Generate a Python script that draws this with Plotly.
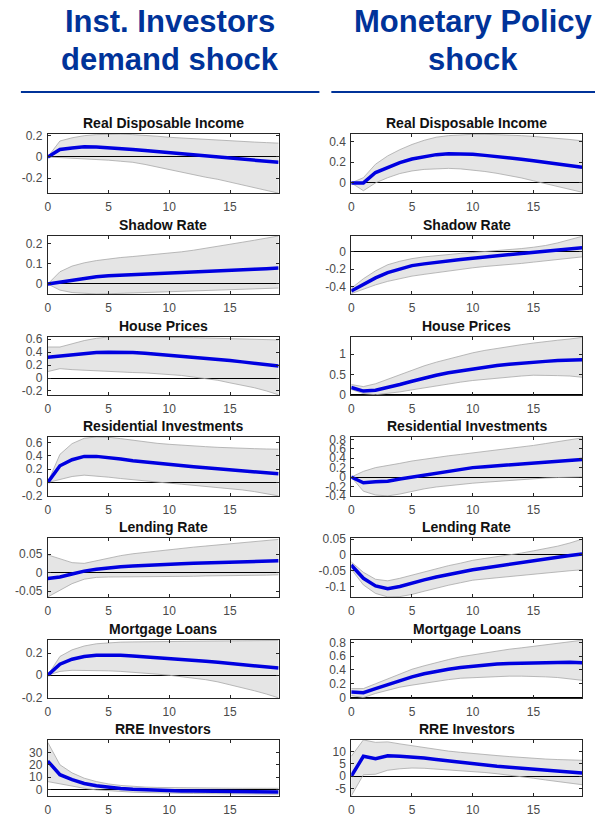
import plotly.graph_objects as go

W, H = 595, 817

steps = list(range(20))
x_ticks = [0, 5, 10, 15]

panel_titles = ["Real Disposable Income", "Shadow Rate", "House Prices",
                "Residential Investments", "Lending Rate", "Mortgage Loans",
                "RRE Investors"]
column_titles = [["Inst. Investors", "demand shock"], ["Monetary Policy", "shock"]]

# ---------------- Inst. Investors demand shock (left column) ----------------
inst_rdi_med = [0, 0.07, 0.085, 0.095, 0.093, 0.088, 0.08, 0.07, 0.06, 0.05, 0.04, 0.03, 0.02, 0.01, 0.0, -0.01, -0.02, -0.03, -0.04, -0.05]
inst_rdi_hi = [0, 0.15, 0.18, 0.20, 0.21, 0.215, 0.215, 0.21, 0.205, 0.195, 0.185, 0.178, 0.17, 0.163, 0.157, 0.15, 0.145, 0.14, 0.135, 0.13]
inst_rdi_lo = [0, -0.005, -0.01, -0.015, -0.02, -0.03, -0.04, -0.05, -0.07, -0.095, -0.12, -0.145, -0.17, -0.19, -0.21, -0.235, -0.26, -0.285, -0.31, -0.34]

inst_sr_med = [0, 0.01, 0.02, 0.03, 0.036, 0.041, 0.044, 0.047, 0.05, 0.053, 0.055, 0.058, 0.061, 0.063, 0.066, 0.068, 0.07, 0.073, 0.075, 0.078]
inst_sr_hi = [0, 0.06, 0.088, 0.104, 0.115, 0.124, 0.13, 0.135, 0.14, 0.145, 0.15, 0.158, 0.166, 0.175, 0.185, 0.195, 0.205, 0.215, 0.225, 0.236]
inst_sr_lo = [0, -0.03, -0.042, -0.047, -0.049, -0.048, -0.046, -0.044, -0.042, -0.04, -0.038, -0.036, -0.034, -0.032, -0.03, -0.028, -0.026, -0.024, -0.022, -0.02]

inst_hp_med = [0.32, 0.34, 0.36, 0.38, 0.395, 0.40, 0.40, 0.395, 0.385, 0.37, 0.355, 0.34, 0.325, 0.305, 0.29, 0.27, 0.25, 0.23, 0.21, 0.185]
inst_hp_hi = [0.48, 0.48, 0.53, 0.58, 0.615, 0.636, 0.636, 0.636, 0.636, 0.636, 0.636, 0.63, 0.625, 0.62, 0.615, 0.61, 0.605, 0.6, 0.595, 0.59]
inst_hp_lo = [0.10, 0.145, 0.13, 0.12, 0.105, 0.095, 0.09, 0.085, 0.08, 0.07, 0.057, 0.04, 0.015, -0.005, -0.035, -0.075, -0.11, -0.15, -0.2, -0.26]

inst_ri_med = [0, 0.25, 0.34, 0.39, 0.39, 0.375, 0.35, 0.325, 0.305, 0.285, 0.27, 0.25, 0.235, 0.22, 0.205, 0.19, 0.175, 0.16, 0.145, 0.13]
inst_ri_hi = [0, 0.42, 0.58, 0.66, 0.68, 0.675, 0.655, 0.63, 0.605, 0.585, 0.57, 0.555, 0.545, 0.535, 0.525, 0.515, 0.51, 0.505, 0.5, 0.497]
inst_ri_lo = [0, 0.05, 0.09, 0.11, 0.1, 0.08, 0.06, 0.04, 0.02, 0.005, -0.01, -0.025, -0.04, -0.055, -0.07, -0.09, -0.11, -0.135, -0.165, -0.2]

inst_lr_med = [-0.016, -0.012, -0.004, 0.004, 0.009, 0.013, 0.016, 0.018, 0.02, 0.021, 0.023, 0.024, 0.025, 0.026, 0.027, 0.028, 0.029, 0.03, 0.031, 0.032]
inst_lr_hi = [0.048, 0.038, 0.027, 0.025, 0.032, 0.04, 0.046, 0.051, 0.055, 0.059, 0.063, 0.066, 0.069, 0.072, 0.075, 0.078, 0.081, 0.084, 0.087, 0.09]
inst_lr_lo = [-0.066, -0.048, -0.03, -0.018, -0.013, -0.012, -0.012, -0.012, -0.011, -0.011, -0.011, -0.01, -0.01, -0.009, -0.009, -0.008, -0.008, -0.007, -0.007, -0.006]

inst_ml_med = [0, 0.1, 0.145, 0.17, 0.18, 0.182, 0.18, 0.175, 0.168, 0.16, 0.152, 0.144, 0.136, 0.127, 0.118, 0.108, 0.098, 0.087, 0.076, 0.065]
inst_ml_hi = [0, 0.17, 0.23, 0.265, 0.285, 0.295, 0.3, 0.302, 0.304, 0.305, 0.306, 0.307, 0.308, 0.309, 0.31, 0.311, 0.312, 0.313, 0.314, 0.315]
inst_ml_lo = [0, 0.035, 0.045, 0.045, 0.043, 0.04, 0.035, 0.028, 0.02, 0.01, 0.0, -0.012, -0.025, -0.04, -0.06, -0.085, -0.11, -0.14, -0.17, -0.205]

inst_rre_med = [23, 12, 8, 5, 3.2, 1.9, 1.0, 0.4, -0.1, -0.5, -0.8, -1.0, -1.1, -1.2, -1.3, -1.4, -1.5, -1.6, -1.7, -1.8]
inst_rre_hi = [38, 20, 13.5, 9.2, 6.5, 4.6, 3.4, 2.6, 2.1, 1.8, 1.6, 1.5, 1.4, 1.3, 1.25, 1.2, 1.15, 1.1, 1.1, 1.1]
inst_rre_lo = [6.5, 4.6, 2.6, 1.1, -0.2, -0.9, -1.5, -2.0, -2.3, -2.6, -2.8, -3.0, -3.1, -3.2, -3.3, -3.4, -3.5, -3.6, -3.6, -3.7]

# ---------------- Monetary Policy shock (right column) ----------------
mp_rdi_med = [0, 0.0, 0.1, 0.15, 0.195, 0.23, 0.255, 0.272, 0.28, 0.28, 0.275, 0.265, 0.255, 0.242, 0.228, 0.213, 0.198, 0.183, 0.167, 0.15]
mp_rdi_hi = [0, 0.05, 0.18, 0.26, 0.32, 0.37, 0.41, 0.44, 0.455, 0.465, 0.468, 0.468, 0.465, 0.46, 0.455, 0.448, 0.44, 0.43, 0.418, 0.405]
mp_rdi_lo = [0, -0.075, 0.0, 0.05, 0.09, 0.115, 0.13, 0.138, 0.14, 0.135, 0.125, 0.11, 0.092, 0.072, 0.048, 0.02, -0.008, -0.035, -0.062, -0.09]

mp_sr_med = [-0.45, -0.37, -0.30, -0.24, -0.195, -0.16, -0.14, -0.12, -0.105, -0.09, -0.075, -0.062, -0.05, -0.04, -0.026, -0.012, 0.0, 0.015, 0.03, 0.045]
mp_sr_hi = [-0.42, -0.31, -0.22, -0.15, -0.11, -0.08, -0.06, -0.045, -0.03, -0.02, -0.01, 0.0, 0.01, 0.02, 0.035, 0.05, 0.07, 0.1, 0.135, 0.175]
mp_sr_lo = [-0.48, -0.43, -0.38, -0.34, -0.31, -0.28, -0.26, -0.24, -0.22, -0.2, -0.185, -0.17, -0.16, -0.145, -0.135, -0.12, -0.105, -0.09, -0.075, -0.06]

mp_hp_med = [0.18, 0.09, 0.11, 0.17, 0.25, 0.33, 0.41, 0.48, 0.54, 0.59, 0.64, 0.68, 0.72, 0.75, 0.78, 0.8, 0.82, 0.84, 0.85, 0.86]
mp_hp_hi = [0.25, 0.2, 0.27, 0.38, 0.5, 0.61, 0.71, 0.8, 0.88, 0.96, 1.03, 1.09, 1.14, 1.19, 1.23, 1.27, 1.31, 1.34, 1.37, 1.41]
mp_hp_lo = [0.13, 0.03, 0.0, 0.03, 0.07, 0.12, 0.17, 0.22, 0.27, 0.31, 0.35, 0.38, 0.41, 0.44, 0.46, 0.48, 0.48, 0.47, 0.46, 0.43]

mp_ri_med = [0, -0.12, -0.1, -0.09, -0.04, 0.0, 0.05, 0.09, 0.13, 0.16, 0.2, 0.22, 0.24, 0.26, 0.28, 0.3, 0.32, 0.34, 0.355, 0.37]
mp_ri_hi = [0, 0.12, 0.2, 0.24, 0.29, 0.34, 0.38, 0.42, 0.45, 0.48, 0.51, 0.54, 0.57, 0.6, 0.635, 0.67, 0.71, 0.75, 0.79, 0.83]
mp_ri_lo = [0, -0.3, -0.38, -0.4, -0.36, -0.3, -0.25, -0.21, -0.18, -0.15, -0.13, -0.11, -0.09, -0.07, -0.05, -0.035, -0.02, -0.01, 0.0, 0.005]

mp_lr_med = [-0.032, -0.074, -0.098, -0.107, -0.1, -0.089, -0.079, -0.07, -0.062, -0.054, -0.047, -0.041, -0.035, -0.029, -0.024, -0.019, -0.013, -0.007, -0.002, 0.003]
mp_lr_hi = [-0.022, -0.055, -0.077, -0.082, -0.074, -0.064, -0.053, -0.043, -0.034, -0.026, -0.017, -0.011, -0.006, 0.0, 0.006, 0.013, 0.02, 0.028, 0.038, 0.05]
mp_lr_lo = [-0.045, -0.095, -0.122, -0.133, -0.132, -0.125, -0.115, -0.105, -0.096, -0.088, -0.08, -0.076, -0.072, -0.068, -0.065, -0.062, -0.058, -0.054, -0.05, -0.047]

mp_ml_med = [0.08, 0.07, 0.13, 0.19, 0.25, 0.3, 0.345, 0.38, 0.41, 0.435, 0.455, 0.47, 0.485, 0.495, 0.5, 0.505, 0.51, 0.51, 0.51, 0.505]
mp_ml_hi = [0.13, 0.13, 0.2, 0.27, 0.34, 0.41, 0.46, 0.51, 0.55, 0.59, 0.62, 0.65, 0.68, 0.7, 0.72, 0.74, 0.76, 0.785, 0.81, 0.83]
mp_ml_lo = [0.03, 0.0, 0.06, 0.11, 0.15, 0.18, 0.21, 0.24, 0.26, 0.28, 0.29, 0.3, 0.305, 0.31, 0.31, 0.31, 0.3, 0.29, 0.27, 0.25]

mp_rre_med = [0, 8.0, 7.0, 8.2, 8.0, 7.8, 7.3, 6.7, 6.1, 5.5, 4.9, 4.4, 4.0, 3.6, 3.2, 2.9, 2.5, 2.1, 1.7, 1.3]
mp_rre_hi = [8, 14.6, 13.6, 13.8, 13.0, 12.2, 11.4, 10.7, 10.1, 9.6, 9.1, 8.7, 8.3, 7.9, 7.5, 7.1, 6.9, 6.7, 6.5, 6.4]
mp_rre_lo = [-7.9, 0.6, 0.8, 2.4, 3.0, 3.3, 3.2, 2.9, 2.6, 2.3, 2.0, 1.5, 1.0, 0.5, -0.1, -0.8, -1.5, -2.2, -2.8, -3.4]

# y tick values per panel
inst_yticks = [[-0.2, 0, 0.2], [0, 0.1, 0.2], [-0.2, 0, 0.2, 0.4, 0.6], [-0.2, 0, 0.2, 0.4, 0.6],
               [-0.05, 0, 0.05], [-0.2, 0, 0.2], [0, 10, 20, 30]]
mp_yticks = [[0, 0.2, 0.4], [-0.4, -0.2, 0], [0, 0.5, 1], [-0.4, -0.2, 0, 0.2, 0.4, 0.6, 0.8],
             [-0.1, -0.05, 0, 0.05], [0, 0.2, 0.4, 0.6, 0.8], [-5, 0, 5, 10]]

inst_series = [(inst_rdi_med, inst_rdi_lo, inst_rdi_hi), (inst_sr_med, inst_sr_lo, inst_sr_hi),
               (inst_hp_med, inst_hp_lo, inst_hp_hi), (inst_ri_med, inst_ri_lo, inst_ri_hi),
               (inst_lr_med, inst_lr_lo, inst_lr_hi), (inst_ml_med, inst_ml_lo, inst_ml_hi),
               (inst_rre_med, inst_rre_lo, inst_rre_hi)]
mp_series = [(mp_rdi_med, mp_rdi_lo, mp_rdi_hi), (mp_sr_med, mp_sr_lo, mp_sr_hi),
             (mp_hp_med, mp_hp_lo, mp_hp_hi), (mp_ri_med, mp_ri_lo, mp_ri_hi),
             (mp_lr_med, mp_lr_lo, mp_lr_hi), (mp_ml_med, mp_ml_lo, mp_ml_hi),
             (mp_rre_med, mp_rre_lo, mp_rre_hi)]

# ---------------- layout geometry (target pixels in the picture) ----------------
col_px = [(45, 277), (350, 582)]
row_px = [(134, 193), (236, 294), (337, 395), (437, 496), (538, 597), (640, 698), (740, 796)]
inst_yrange = [[-0.338, 0.216], [-0.049, 0.236], [-0.262, 0.636], [-0.2, 0.68],
               [-0.066, 0.094], [-0.205, 0.32], [-5.0, 40]]
mp_yrange = [[-0.097, 0.471], [-0.484, 0.179], [-0.005, 1.42], [-0.4, 0.85],
             [-0.133, 0.054], [-0.005, 0.835], [-7.9, 14.6]]

# the captured page maps layout px to picture px as pic = 6 + 0.983 * layout
V_OFF, V_SCALE = 6.0, 0.983


def py(p):
    return 1 - ((p - V_OFF) / V_SCALE) / H


FONT = "Liberation Sans, Arial, sans-serif"
AX = "#262626"
TICKF = dict(family=FONT, size=12, color="#4a4a4a")


def fmt(v):
    return f"{v:g}"


fig = go.Figure()
layout = dict(width=W, height=H, margin=dict(l=0, r=0, t=0, b=0), autosize=False,
              paper_bgcolor="white", plot_bgcolor="white", showlegend=False)
annotations = []

k = 0
for c, (series_list, yticks, yranges) in enumerate([(inst_series, inst_yticks, inst_yrange),
                                                    (mp_series, mp_yticks, mp_yrange)]):
    for r in range(7):
        k += 1
        xn = "x" if k == 1 else f"x{k}"
        yn = "y" if k == 1 else f"y{k}"
        med, lo, hi = series_list[r]
        fig.add_trace(go.Scatter(x=steps, y=lo, mode="lines", xaxis=xn, yaxis=yn,
                                 line=dict(color="#a8a8a8", width=0.8), hoverinfo="skip"))
        fig.add_trace(go.Scatter(x=steps, y=hi, mode="lines", xaxis=xn, yaxis=yn,
                                 fill="tonexty", fillcolor="rgba(0,0,0,0.1)",
                                 line=dict(color="#a8a8a8", width=0.8), hoverinfo="skip"))
        fig.add_trace(go.Scatter(x=steps, y=med, mode="lines", xaxis=xn, yaxis=yn,
                                 line=dict(color="#0000e0", width=3.5)))
        x0, x1 = col_px[c]
        t0, b0 = row_px[r]
        common = dict(ticks="inside", ticklen=3, tickcolor=AX, tickwidth=1,
                      showline=True, linecolor=AX, linewidth=1, mirror="ticks",
                      showgrid=False, tickfont=TICKF, fixedrange=True)
        layout["xaxis" if k == 1 else f"xaxis{k}"] = dict(
            domain=[x0 / W, x1 / W], range=[0, 19], anchor=yn,
            tickmode="array", tickvals=x_ticks, ticktext=[fmt(v) for v in x_ticks],
            zeroline=False, ticklabelstandoff=3, **common)
        layout["yaxis" if k == 1 else f"yaxis{k}"] = dict(
            domain=[py(b0), py(t0)], range=yranges[r], anchor=xn,
            tickmode="array", tickvals=yticks[r], ticktext=[fmt(v) for v in yticks[r]],
            zeroline=True, zerolinecolor="black", zerolinewidth=1,
            ticklabelstandoff=2, **common)
        annotations.append(dict(text=f"<b>{panel_titles[r]}</b>", xref="paper", yref="paper",
                                x=(x0 + x1) / 2 / W, y=py(t0 - 11),
                                xanchor="center", yanchor="middle", showarrow=False,
                                font=dict(family=FONT, size=14, color="#111111")))

header_cx = [168, 472]
header_cy = [22, 60]
for c in range(2):
    for i, line in enumerate(column_titles[c]):
        annotations.append(dict(text=f"<b>{line}</b>", xref="paper", yref="paper",
                                x=header_cx[c] / W, y=py(header_cy[i]),
                                xanchor="center", yanchor="middle", showarrow=False,
                                font=dict(family=FONT, size=31, color="#003399")))

layout["annotations"] = annotations
layout["shapes"] = [
    dict(type="line", xref="paper", yref="paper", x0=18 / W, x1=318 / W,
         y0=py(92), y1=py(92), line=dict(color="#003399", width=2)),
    dict(type="line", xref="paper", yref="paper", x0=330 / W, x1=595 / W,
         y0=py(92), y1=py(92), line=dict(color="#003399", width=2)),
]
fig.update_layout(**layout)
fig.write_html("out.html", config={"displayModeBar": False},
               post_script="document.body.style.margin='0';document.body.style.padding='0';"
                           "document.documentElement.style.overflow='hidden';")
